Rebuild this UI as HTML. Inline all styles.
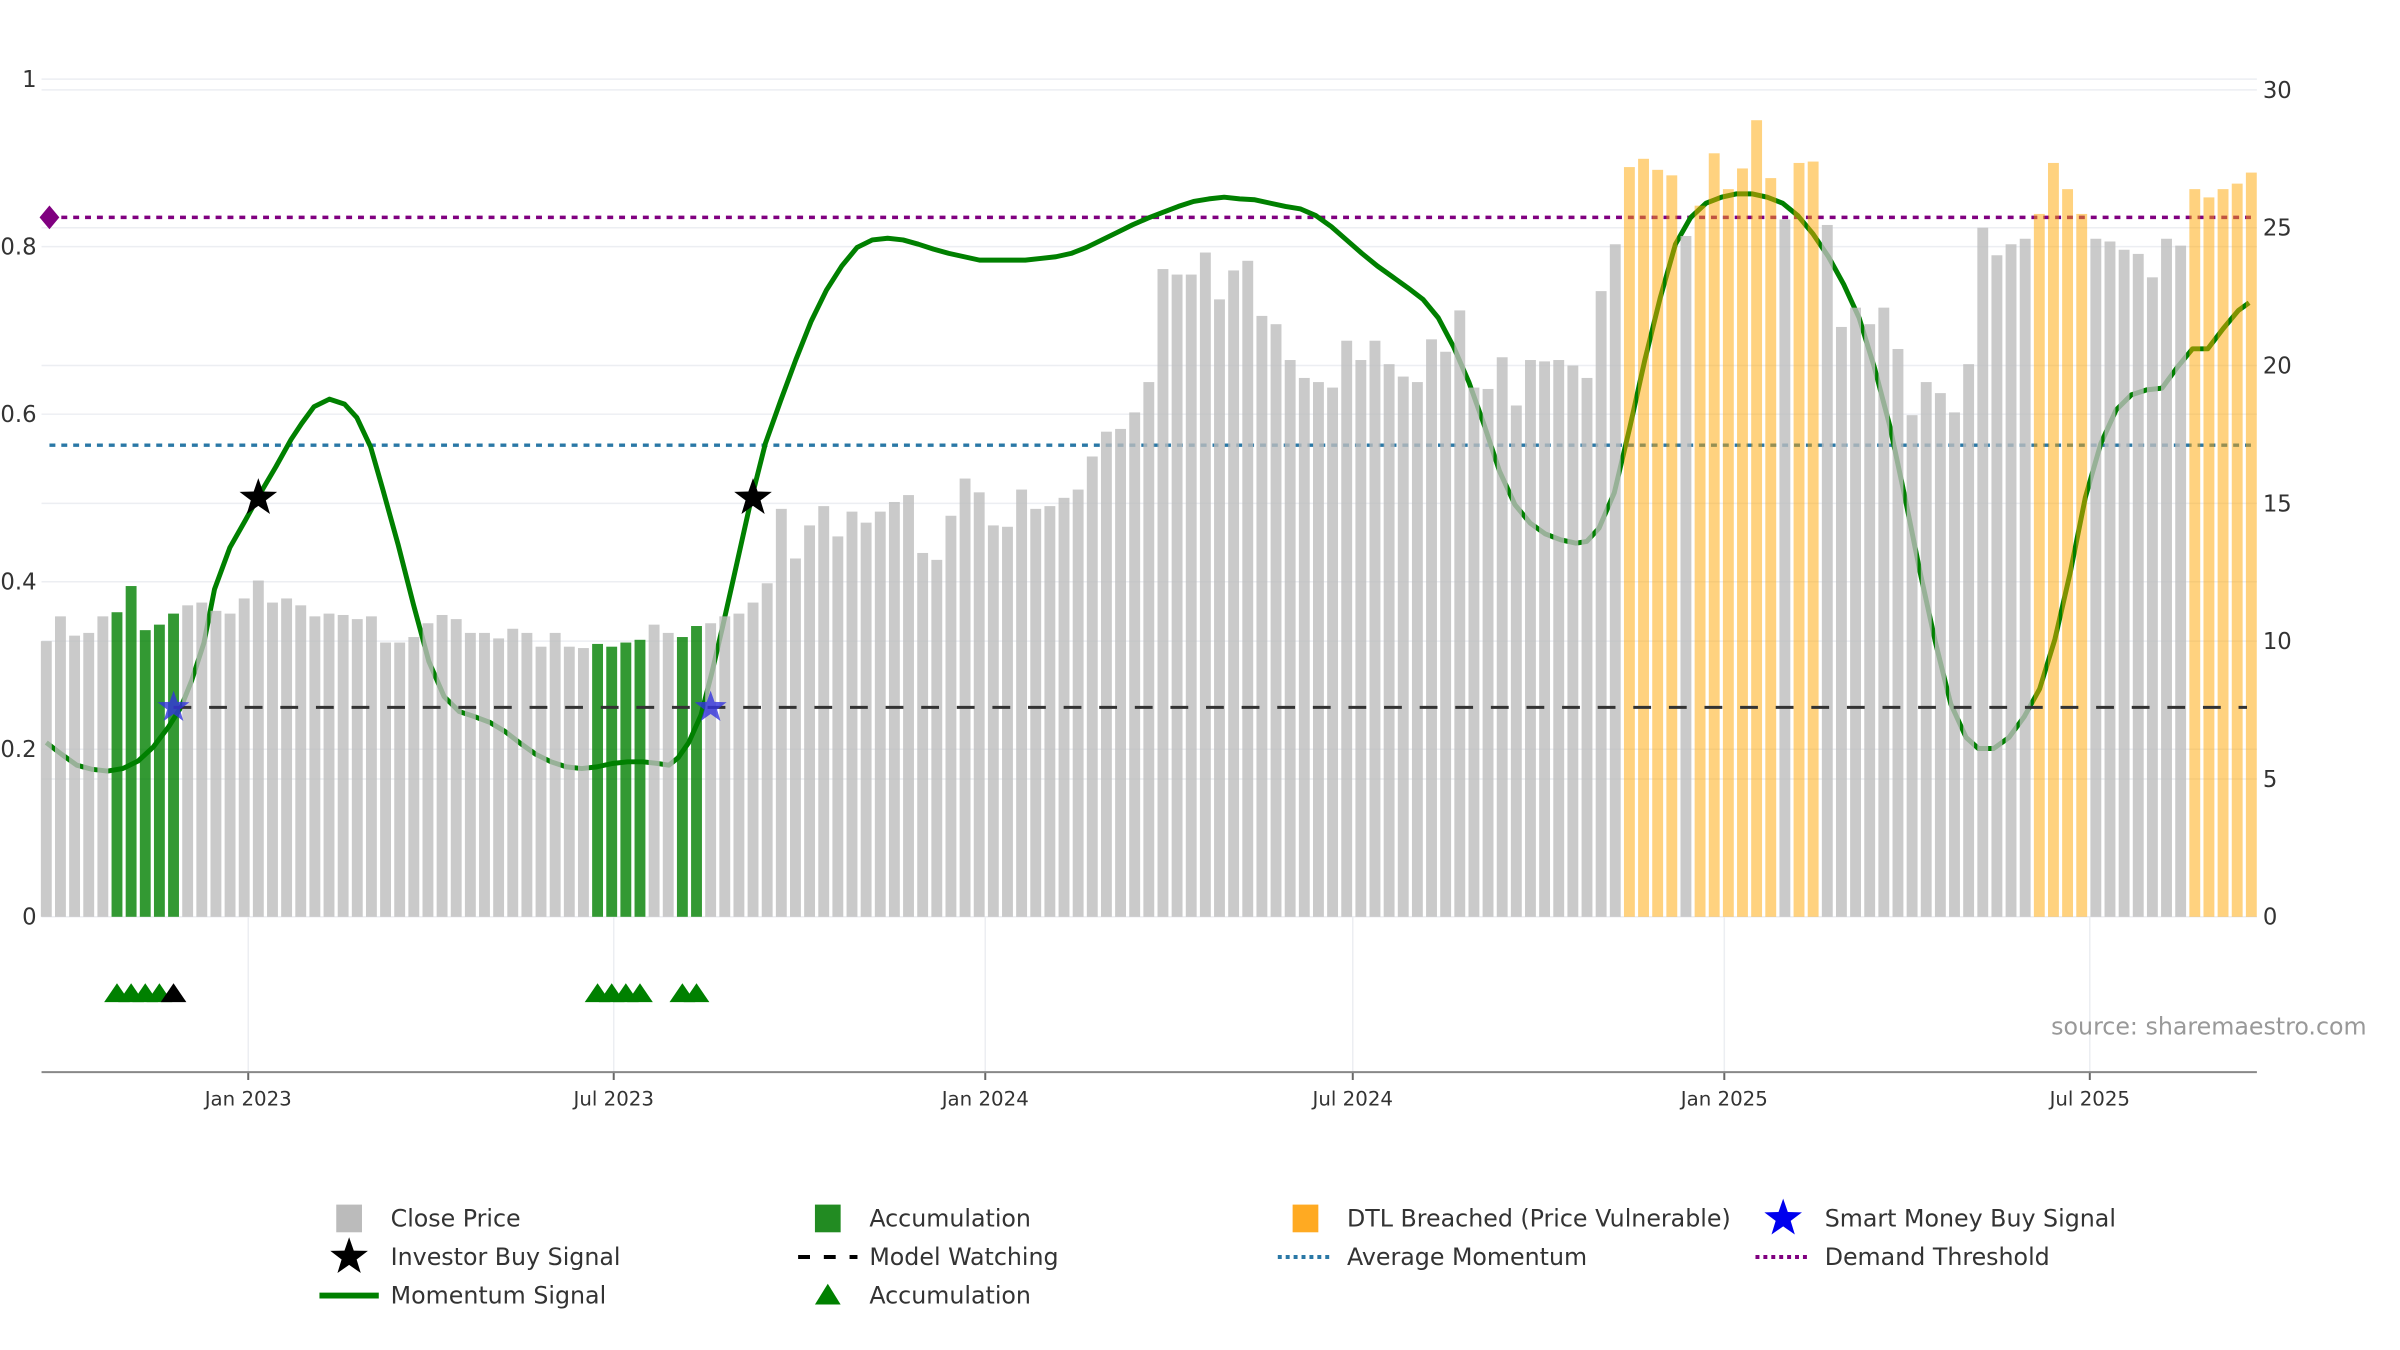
<!DOCTYPE html>
<html><head><meta charset="utf-8"><title>Momentum chart</title>
<style>
html,body{margin:0;padding:0;background:#fff;}
svg{display:block;font-family:"DejaVu Sans","Liberation Sans",sans-serif;}
</style></head>
<body>
<svg id="chart" width="2400" height="1350" viewBox="0 0 2400 1350" xmlns="http://www.w3.org/2000/svg">
<g transform="scale(0.989)">
<g id="grid"></g>
<g id="lines"></g>
<g id="mom"></g>
<g id="bars"></g>
<g id="marks"></g>
<g id="axes"></g>
<text x="2074" y="1046" font-size="24" fill="#999">source: sharemaestro.com</text>
<g id="legend"></g>
</g>
</svg>
<script>
const startDate = "2022-09-23";
const closePrices = [10.0,10.9,10.2,10.3,10.9,11.05,12.0,10.4,10.6,11.0,
11.3,11.4,11.1,11.0,11.55,12.2,11.4,11.55,11.3,10.9,
11.0,10.95,10.8,10.9,9.95,9.95,10.15,10.65,10.95,10.8,
10.3,10.3,10.1,10.45,10.3,9.8,10.3,9.8,9.75,9.9,
9.8,9.95,10.05,10.6,10.3,10.15,10.55,10.65,10.9,11.0,
11.4,12.1,14.8,13.0,14.2,14.9,13.8,14.7,14.3,14.7,
15.05,15.3,13.2,12.95,14.55,15.9,15.4,14.2,14.15,15.5,
14.8,14.9,15.2,15.5,16.7,17.6,17.7,18.3,19.4,23.5,
23.3,23.3,24.1,22.4,23.45,23.8,21.8,21.5,20.2,19.55,
19.4,19.2,20.9,20.2,20.9,20.05,19.6,19.4,20.95,20.5,
22.0,19.2,19.15,20.3,18.55,20.2,20.15,20.2,20.0,19.55,
22.7,24.4,27.2,27.5,27.1,26.9,24.7,25.8,27.7,26.4,
27.15,28.9,26.8,25.3,27.35,27.4,25.1,21.4,22.1,21.5,
22.1,20.6,18.2,19.4,19.0,18.3,20.05,25.0,24.0,24.4,
24.6,25.5,27.35,26.4,25.5,24.6,24.5,24.2,24.05,23.2,
24.6,24.35,26.4,26.1,26.4,26.6,27.0];
const accumWeeks = [5,6,7,8,9,39,40,41,42,45,46];
const dtlWeeks = [112,113,114,115,117,118,119,120,121,122,124,125,141,142,143,144,152,153,154,155,156];
const momWeeks = [0,1.08,2.16,3.25,4.33,5.41,6.49,7.58,8.66,9.52,10.28,11.15,11.9,12.99,14.07,15.15,16.23,17.32,18.07,18.94,20.02,21.1,21.97,22.94,23.81,24.89,25.97,27.06,28.14,29.22,30.3,31.39,32.47,33.55,34.63,35.71,36.8,37.88,38.96,40.04,41.13,42.21,43.29,44.05,44.7,45.45,46.32,47.08,47.84,48.7,49.78,50.87,51.95,53.03,54.11,55.19,56.28,57.36,58.44,59.52,60.61,61.69,62.77,63.85,64.94,66.02,68.18,69.26,70.35,71.43,72.51,73.59,74.68,75.76,76.84,77.92,79.0,80.09,81.17,82.25,83.33,84.42,85.5,86.58,87.66,88.74,89.83,90.91,91.99,93.07,94.16,95.24,96.32,97.4,98.48,99.57,100.65,101.73,102.81,103.9,104.98,106.06,107.14,108.23,108.98,109.85,110.93,112.01,113.1,114.18,115.26,116.34,117.42,118.51,119.59,120.67,121.75,122.84,123.92,125.0,126.08,127.16,128.25,129.33,130.41,131.49,132.58,133.66,134.74,135.82,136.69,137.77,138.85,139.94,141.02,142.1,143.18,144.26,145.35,146.43,147.51,148.59,149.68,150.76,151.84,152.92,154.0,155.09,155.84];
const momValues = [.208,.194,.181,.176,.174,.177,.186,.203,.227,.250,.282,.327,.391,.441,.473,.506,.537,.570,.589,.609,.618,.612,.596,.561,.510,.444,.373,.305,.263,.245,.239,.232,.221,.207,.194,.185,.179,.177,.179,.183,.185,.185,.183,.181,.190,.208,.241,.291,.346,.410,.492,.565,.616,.665,.711,.748,.777,.799,.808,.810,.808,.803,.797,.792,.788,.784,.784,.784,.786,.788,.792,.799,.808,.817,.826,.834,.841,.848,.854,.857,.859,.857,.856,.852,.848,.845,.837,.824,.808,.792,.777,.764,.751,.737,.715,.680,.638,.587,.532,.492,.470,.457,.450,.446,.448,.464,.506,.583,.665,.739,.803,.835,.852,.859,.863,.863,.859,.852,.837,.815,.788,.755,.715,.656,.587,.501,.410,.327,.254,.214,.201,.201,.214,.239,.272,.331,.410,.501,.565,.605,.623,.629,.631,.656,.678,.678,.702,.724,.733];
const greenTriWeeks = [5,6,7,8,39,40,41,42,45,46];
const blackTriWeeks = [9];
const smartMoneyWeeks = [9,47];
const investorBuyWeeks = [15,50];
const investorBuyLevel = 0.5;
const watchLevel = 0.25;
const watchStartWeek = 9;
const avgMomentum = 0.563;
const demandThreshold = 0.835;
const triangleLevel = -0.09;
const leftTicks = [0,0.2,0.4,0.6,0.8,1];
const leftTickLabels = ["0","0.2","0.4","0.6","0.8","1"];
const rightTicks = [0,5,10,15,20,25,30];
const dateTicks = ["2023-01-01","2023-07-01","2024-01-01","2024-07-01","2025-01-01","2025-07-01"];
const dateTickLabels = ["Jan 2023","Jul 2023","Jan 2024","Jul 2024","Jan 2025","Jul 2025"];

const NS = "http://www.w3.org/2000/svg";
const X0 = 42, X1 = 2282, AXY = 1084;
const DAY = 86400000, ref = Date.parse("2023-01-01");
function xDate(s){ return 251 + (Date.parse(s) - ref)/DAY*2.0417; }
function xWeek(i){ return 251 + ((Date.parse(startDate) - ref)/DAY + i*7)*2.0417; }
function yL(v){ return 927 - v*847; }
function yR(v){ return 927 - v*27.87; }
function mk(tag, attrs, parent){ const e=document.createElementNS(NS,tag); for(const k in attrs) e.setAttribute(k, attrs[k]); parent.appendChild(e); return e; }
function starPts(cx,cy,R){ const r=R*0.4; let p=[]; for(let k=0;k<10;k++){ const a=-Math.PI/2+k*Math.PI/5; const rr=k%2?r:R; p.push((cx+rr*Math.cos(a)).toFixed(1)+","+(cy+rr*Math.sin(a)).toFixed(1)); } return p.join(" "); }

const grid=document.getElementById('grid'), lines=document.getElementById('lines'), mom=document.getElementById('mom'),
 bars=document.getElementById('bars'), marks=document.getElementById('marks'), axes=document.getElementById('axes'), legend=document.getElementById('legend');

leftTicks.forEach((v,i)=>{
  const g=mk('line',{x1:X0,x2:X1,y1:yL(v),y2:yL(v),stroke:'#eceef2','stroke-width':1.5},grid);
   
  const t=mk('text',{x:37,y:yL(v)+8,'font-size':23,fill:'#333','text-anchor':'end'},axes);
   
  t.textContent=leftTickLabels[i];
});
rightTicks.forEach(v=>{
  const g=mk('line',{x1:X0,x2:X1,y1:yR(v),y2:yR(v),stroke:'#eceef2','stroke-width':1.5},grid);
   
  const t=mk('text',{x:2288,y:yR(v)+8,'font-size':23,fill:'#333'},axes);
   
  t.textContent=String(v);
});
dateTicks.forEach((d,i)=>{
  const x=xDate(d);
  const g=mk('line',{x1:x,x2:x,y1:yR(0),y2:AXY,stroke:'#eceef2','stroke-width':1.5},grid);
   
  const tk=mk('line',{x1:x,x2:x,y1:AXY,y2:AXY+8,stroke:'#666','stroke-width':2},axes);
   
  const t=mk('text',{x:x,y:1118,'font-size':20,fill:'#333','text-anchor':'middle'},axes);
   
  t.textContent=dateTickLabels[i];
});
const ax=mk('line',{x1:X0,x2:X1,y1:AXY,y2:AXY,stroke:'#888','stroke-width':2},axes);
 

const pts=momWeeks.map((w,i)=>xWeek(w).toFixed(1)+","+yL(momValues[i]).toFixed(1)).join(" ");
const ml=mk('polyline',{points:pts,fill:'none',stroke:'#008000','stroke-width':5,'stroke-linejoin':'round'},mom);
 

closePrices.forEach((v,i)=>{
  let fill='#bdbdbd', op=0.8, nm='close-price-bar';
  if(accumWeeks.includes(i)){ fill='#008000'; op=0.8; nm='accumulation-bar'; }
  if(dtlWeeks.includes(i)){ fill='#ffa500'; op=0.5; nm='dtl-breached-bar'; }
  const x=xWeek(i);
  const r=mk('rect',{x:x-5.5,y:yR(v),width:11,height:yR(0)-yR(v),fill:fill,'fill-opacity':op},bars);
   
});

const dl=mk('line',{x1:X0+8,x2:X1,y1:yL(demandThreshold),y2:yL(demandThreshold),stroke:'#800080','stroke-width':3.5,'stroke-dasharray':'6,6'},lines);
 
const dm=mk('polygon',{points:`${X0+8},${yL(demandThreshold)-12} ${X0+18},${yL(demandThreshold)} ${X0+8},${yL(demandThreshold)+12} ${X0-2},${yL(demandThreshold)}`,fill:'#800080'},marks);
 
const al=mk('line',{x1:X0+8,x2:X1,y1:yL(avgMomentum),y2:yL(avgMomentum),stroke:'#2a78a6','stroke-width':3.5,'stroke-dasharray':'6,6'},lines);
 
const wl=mk('line',{x1:xWeek(watchStartWeek),x2:X1-10,y1:yL(watchLevel),y2:yL(watchLevel),stroke:'#333','stroke-width':3,'stroke-dasharray':'18,18'},marks);
 

function tri(x,y,col,nm){ const t=mk('polygon',{points:`${x-13},${y+10} ${x},${y-9} ${x+13},${y+10}`,fill:col},marks);   }
greenTriWeeks.forEach(w=>tri(xWeek(w),yL(triangleLevel),'#008000','accumulation-triangle'));
blackTriWeeks.forEach(w=>tri(xWeek(w),yL(triangleLevel),'#000','watch-triangle'));
smartMoneyWeeks.forEach(w=>{ const s=mk('polygon',{points:starPts(xWeek(w),yL(watchLevel),17),fill:'#3333dd','fill-opacity':0.8},marks);   });
investorBuyWeeks.forEach(w=>{ const s=mk('polygon',{points:starPts(xWeek(w),yL(investorBuyLevel),20),fill:'#000'},marks);   });

const cols=[353,837,1320,1803], rows=[1232,1271,1310];
function ltext(c,r,s){ const t=mk('text',{x:cols[c]+42,y:rows[r]+8,'font-size':24,fill:'#333'},legend);   t.textContent=s; }
function lrect(c,r,col,nm){ const e=mk('rect',{x:cols[c]-13,y:rows[r]-14,width:26,height:28,fill:col},legend);   }
lrect(0,0,'#bbbbbb','legend-close-price'); ltext(0,0,'Close Price');
lrect(1,0,'#228b22','legend-accumulation'); ltext(1,0,'Accumulation');
lrect(2,0,'#ffaa22','legend-dtl-breached'); ltext(2,0,'DTL Breached (Price Vulnerable)');
let e=mk('polygon',{points:starPts(cols[3],rows[0],20),fill:'#0000ee'},legend);   ltext(3,0,'Smart Money Buy Signal');
e=mk('polygon',{points:starPts(cols[0],rows[1],20),fill:'#000'},legend);   ltext(0,1,'Investor Buy Signal');
e=mk('line',{x1:cols[1]-30,x2:cols[1]+30,y1:rows[1],y2:rows[1],stroke:'#000','stroke-width':4,'stroke-dasharray':'12,14'},legend);   ltext(1,1,'Model Watching');
e=mk('line',{x1:cols[2]-28,x2:cols[2]+28,y1:rows[1],y2:rows[1],stroke:'#2a78a6','stroke-width':4,'stroke-dasharray':'4,4'},legend);   ltext(2,1,'Average Momentum');
e=mk('line',{x1:cols[3]-28,x2:cols[3]+28,y1:rows[1],y2:rows[1],stroke:'#800080','stroke-width':4,'stroke-dasharray':'4,4'},legend);   ltext(3,1,'Demand Threshold');
e=mk('line',{x1:cols[0]-30,x2:cols[0]+30,y1:rows[2],y2:rows[2],stroke:'#008000','stroke-width':6},legend);   ltext(0,2,'Momentum Signal');
e=mk('polygon',{points:`${cols[1]-13},${rows[2]+9} ${cols[1]},${rows[2]-12} ${cols[1]+13},${rows[2]+9}`,fill:'#008000'},legend);   ltext(1,2,'Accumulation');
</script>
</body></html>
